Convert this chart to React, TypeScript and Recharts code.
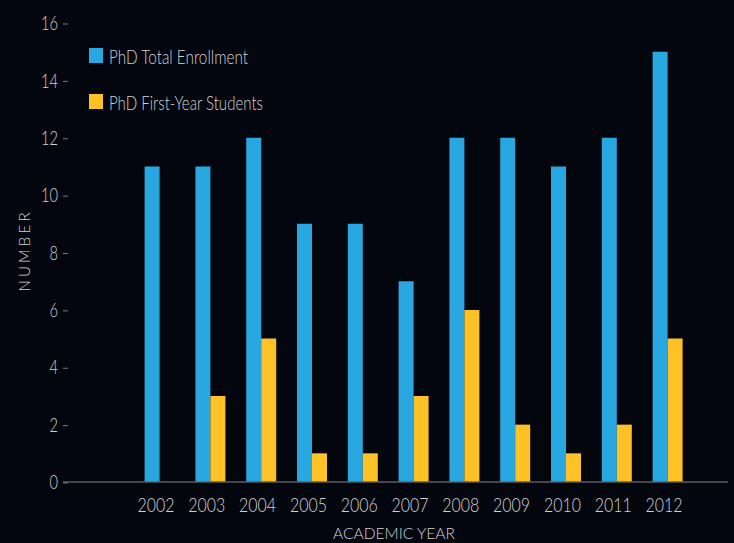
import React from 'react';
import { BarChart, Bar, XAxis, YAxis, Legend } from 'recharts';

const years = ['2002', '2003', '2004', '2005', '2006', '2007', '2008', '2009', '2010', '2011', '2012'];
const totalEnrollment = [11, 11, 12, 9, 9, 7, 12, 12, 11, 12, 15];
const firstYear = [0, 3, 5, 1, 1, 3, 6, 2, 1, 2, 5];
const yTicks = [0, 2, 4, 6, 8, 10, 12, 14, 16];

const BLUE = '#29a7e1';
const YELLOW = '#fec226';
const BG = '#03060d';
const TEXT = '#d2d2d4';
const FONT = 'Lato, "Open Sans", sans-serif';

const data = years.map((year, i) => ({
  year,
  total: totalEnrollment[i],
  first: firstYear[i],
}));

const YTick = (props: any) => {
  const { y, payload } = props;
  const label = String(payload.value);
  return (
    <g>
      <text
        x={58}
        y={y}
        dy="0.36em"
        textAnchor="end"
        fill={TEXT}
        fontFamily={FONT}
        fontWeight={300}
        fontSize={20}
        textLength={label.length * 8.5}
        lengthAdjust="spacingAndGlyphs"
      >
        {label}
      </text>
      <line x1={63} x2={68} y1={y + 1} y2={y + 1} stroke="#7a7a7e" strokeWidth={1} />
    </g>
  );
};

const XTick = (props: any) => {
  const { x, y, payload } = props;
  return (
    <text
      x={x - 4}
      y={y + 22}
      textAnchor="middle"
      fill={TEXT}
      fontFamily={FONT}
      fontWeight={300}
      fontSize={20}
      textLength={37}
      lengthAdjust="spacingAndGlyphs"
    >
      {payload.value}
    </text>
  );
};

const xAxisTitle = () => (
  <text
    x={394}
    y={539}
    textAnchor="middle"
    fill={TEXT}
    fontFamily={FONT}
    fontWeight={300}
    fontSize={16}
    textLength={122}
    lengthAdjust="spacingAndGlyphs"
  >
    ACADEMIC YEAR
  </text>
);

const yAxisTitle = () => (
  <text
    x={30}
    y={252}
    transform="rotate(-90 30 252)"
    textAnchor="middle"
    fill={TEXT}
    fontFamily={FONT}
    fontWeight={300}
    fontSize={15}
    textLength={79}
    lengthAdjust="spacing"
  >
    NUMBER
  </text>
);

const legendItems = [
  { label: 'PhD Total Enrollment', color: BLUE, width: 139 },
  { label: 'PhD First-Year Students', color: YELLOW, width: 154 },
];

const renderLegend = () => (
  <div>
    {legendItems.map((item, i) => (
      <svg
        key={item.label}
        width={300}
        height={26}
        overflow="visible"
        style={{ display: 'block', overflow: 'visible', marginBottom: i === 0 ? 20 : 0 }}
      >
        <rect x={0} y={1} width={14} height={15} fill={item.color} />
        <text
          x={20}
          y={17}
          fill={TEXT}
          fontFamily={FONT}
          fontWeight={300}
          fontSize={20}
          textLength={item.width}
          lengthAdjust="spacingAndGlyphs"
        >
          {item.label}
        </text>
      </svg>
    ))}
  </div>
);

export default function App() {
  return (
    <div style={{ position: 'fixed', left: 0, top: 0, width: 734, height: 543, background: BG }}>
      <BarChart
        width={734}
        height={543}
        data={data}
        margin={{ top: 23, right: 6, bottom: 0, left: 0 }}
        barSize={15}
        barGap={0}
      >
        <XAxis
          dataKey="year"
          height={61}
          padding={{ left: 71.6, right: 34.6 }}
          axisLine={{ stroke: '#5c5c60', strokeWidth: 1.5 }}
          tickLine={false}
          tick={<XTick />}
          interval={0}
          label={{ content: xAxisTitle }}
        />
        <YAxis
          width={63}
          domain={[0, 16]}
          ticks={yTicks}
          axisLine={false}
          tickLine={false}
          tick={<YTick />}
          label={{ content: yAxisTitle }}
        />
        <Legend
          layout="vertical"
          align="center"
          verticalAlign="middle"
          content={renderLegend}
          wrapperStyle={{ left: 89, top: 47, width: 320 }}
        />
        <Bar dataKey="total" name="PhD Total Enrollment" fill={BLUE} isAnimationActive={false} />
        <Bar dataKey="first" name="PhD First-Year Students" fill={YELLOW} isAnimationActive={false} />
      </BarChart>
    </div>
  );
}
